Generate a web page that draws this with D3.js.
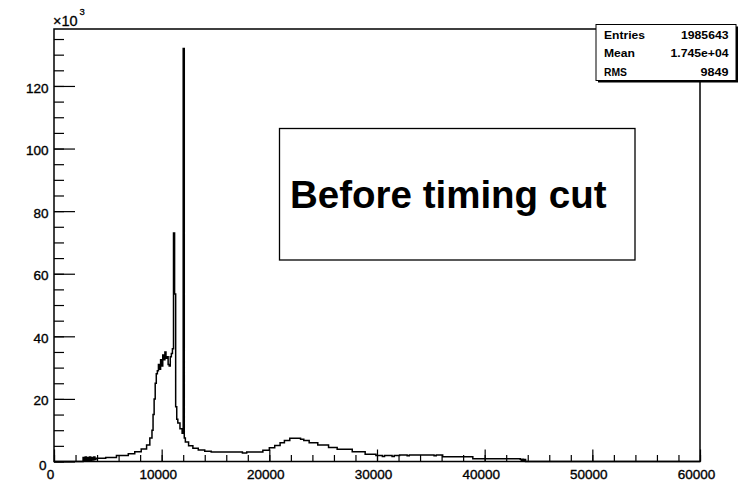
<!DOCTYPE html>
<html>
<head>
<meta charset="utf-8">
<script src="https://cdn.jsdelivr.net/npm/d3@7"></script>
<style>
  html, body { margin: 0; padding: 0; background: #fff; }
  svg { display: block; }
  text { font-family: "Liberation Sans", Arial, Helvetica, sans-serif; fill: #000; }
</style>
</head>
<body>
<svg id="chart" width="747" height="483"></svg>
<script>
// Histogram bin low edges (last entry closes the final bin) and bin contents in units of 10^3
const binEdges = [
  0, 2700, 2800, 2900, 3000, 3100, 3200, 3300, 3400, 3500, 3600, 3700, 3800, 3900,
  4800, 5800, 6900, 7500, 8100, 8600, 8900, 9100, 9200, 9300, 9400, 9500, 9600,
  9700, 9800, 9900, 10000, 10100, 10200, 10300, 10400, 10500, 10600, 10700, 10800,
  10900, 11000, 11100, 11200, 11300, 11400, 11500, 11700, 11900, 12000, 12100,
  12200, 12500, 12900, 13400, 14000, 14600, 17500, 17900, 19400, 20000, 20500,
  21000, 21400, 21900, 22900, 23200, 23700, 24500, 25500, 26300, 27700, 28900,
  29900, 30500, 30700, 31400, 31600, 32100, 32800, 33000, 35300, 35500, 36100,
  38900, 43300, 43400, 43500, 43600, 43700, 43800, 60000
];
const countsK = [
  0, 1.3, 0.2, 1.4, 0.3, 1.3, 0.2, 1.4, 0.4, 1.3, 0.5, 1.4, 0.6,
  1.0, 1.3, 1.9, 2.5, 3.1, 4.0, 5.3, 7.5, 10, 15, 20, 25, 28,
  29, 31, 29.5, 32.5, 30.5, 34, 32.5, 35, 33, 33.5, 31, 30.5,
  33.5, 34.5, 36, 73, 53.5, 17.5, 13.5, 12.3, 10.5, 9, 132, 7.5,
  6.2, 5.0, 4.2, 3.7, 3.3, 3.0, 2.7, 3.0, 3.6, 4.4,
  5.1, 6.0, 6.7, 7.4, 7.1, 6.7, 6.0, 5.3, 4.5, 3.9, 3.1,
  2.3, 1.9, 1.6, 1.9, 1.6, 1.9, 2.1, 1.8, 2.1, 1.8, 2.1,
  1.5, 0.9, 0.7, 0.1, 0.7, 0.1, 0.6, 0
];

// Axis ticks
const xMajorTicks = [0, 10000, 20000, 30000, 40000, 50000, 60000];
const xMinorTicks = d3.range(0, 60001, 2000);
const yMajorTicks = [0, 20, 40, 60, 80, 100, 120];
const yMinorTicks = d3.range(0, 136, 5);

// Statistics box
const statNames  = ["Entries", "Mean", "RMS"];
const statValues = ["1985643", "1.745e+04", "9849"];

const titleText = "Before timing cut";

const svg = d3.select("#chart");
const frame = { left: 54, right: 700, top: 29, bottom: 461.5 };

const x = d3.scaleLinear().domain([0, 60000]).range([frame.left, frame.right]);
const y = d3.scaleLinear().domain([0, 138.2]).range([frame.bottom, frame.top]);

// Histogram drawn as a step outline
const stepPoints = [];
countsK.forEach((c, i) => {
  stepPoints.push([binEdges[i], c]);
  stepPoints.push([binEdges[i + 1], c]);
});
const line = d3.line().x(d => x(d[0])).y(d => y(d[1]));
svg.append("path")
  .attr("d", line(stepPoints))
  .attr("fill", "none")
  .attr("stroke", "#000")
  .attr("stroke-width", 1.5)
  .attr("stroke-linejoin", "miter");

// Tick labels are drawn slightly heavy
function heavyLabel(sel) {
  sel.style("font-size", "13.5px")
    .attr("stroke", "#000").attr("stroke-width", 0.35);
}

// X axis: minor ticks, then major ticks with labels
const xAxisG = svg.append("g").attr("transform", `translate(0,${frame.bottom})`);
xAxisG.append("g")
  .call(d3.axisBottom(x).tickValues(xMinorTicks).tickSize(-6.5).tickFormat(""))
  .call(g => g.select(".domain").remove());
const xMajor = xAxisG.append("g")
  .call(d3.axisBottom(x).tickValues(xMajorTicks).tickSize(-12).tickPadding(8).tickFormat(d3.format("d")))
  .call(g => g.select(".domain").remove());
xMajor.selectAll("text").attr("dx", -4).call(heavyLabel);
xAxisG.selectAll("line").attr("stroke", "#000").attr("stroke-width", 1.2);

// Y axis
const yAxisG = svg.append("g").attr("transform", `translate(${frame.left},0)`);
yAxisG.append("g")
  .call(d3.axisLeft(y).tickValues(yMinorTicks).tickSize(-10).tickFormat(""))
  .call(g => g.select(".domain").remove());
const yMajor = yAxisG.append("g")
  .call(d3.axisLeft(y).tickValues(yMajorTicks).tickSize(-21).tickPadding(5.5).tickFormat(d3.format("d")))
  .call(g => g.select(".domain").remove());
yMajor.selectAll("text")
  .attr("dy", d => d === 0 ? "0.62em" : "0.45em")
  .attr("dx", d => d === 0 ? -2 : 0)
  .call(heavyLabel);
yAxisG.selectAll("line").attr("stroke", "#000").attr("stroke-width", 1.2);

// Frame
svg.append("rect")
  .attr("x", frame.left).attr("y", frame.top)
  .attr("width", frame.right - frame.left).attr("height", frame.bottom - frame.top)
  .attr("fill", "none").attr("stroke", "#000").attr("stroke-width", 1.5);

// Exponent label of the y axis
const expo = svg.append("text").attr("x", 53).attr("y", 26)
  .style("font-size", "14.5px").attr("stroke", "#000").attr("stroke-width", 0.3);
expo.append("tspan").text("\u00d710");
expo.append("tspan").attr("dy", -11).attr("dx", 2).style("font-size", "9.5px").text("3");

// Statistics box with drop shadow
const sb = { x: 596, y: 24.5, w: 140, h: 56 };
svg.append("rect").attr("x", sb.x + 2).attr("y", sb.y + 2).attr("width", sb.w).attr("height", sb.h).attr("fill", "#000");
svg.append("rect").attr("x", sb.x).attr("y", sb.y).attr("width", sb.w).attr("height", sb.h)
  .attr("fill", "#fff").attr("stroke", "#000").attr("stroke-width", 1);
const rowY = d3.scalePoint().domain(statNames).range([38.5, 76]);
const nameWidths = [41, 31, 23];
const valueWidths = [47.5, 58, 28];
statNames.forEach((n, i) => {
  svg.append("text")
    .attr("x", 604).attr("y", rowY(n))
    .attr("textLength", nameWidths[i]).attr("lengthAdjust", "spacingAndGlyphs")
    .style("font-size", "10px").style("font-weight", "bold")
    .text(n);
  svg.append("text")
    .attr("x", 728.5 - valueWidths[i]).attr("y", rowY(n))
    .attr("textLength", valueWidths[i]).attr("lengthAdjust", "spacingAndGlyphs")
    .style("font-size", "10px").style("font-weight", "bold")
    .text(statValues[i]);
});

// Title box
svg.append("rect")
  .attr("x", 279.5).attr("y", 128.5).attr("width", 355.5).attr("height", 131.5)
  .attr("fill", "#fff").attr("stroke", "#000").attr("stroke-width", 1.3);
svg.append("text")
  .attr("x", 290).attr("y", 207.5)
  .style("font-size", "38.5px").style("font-weight", "bold")
  .text(titleText);
</script>
</body>
</html>
